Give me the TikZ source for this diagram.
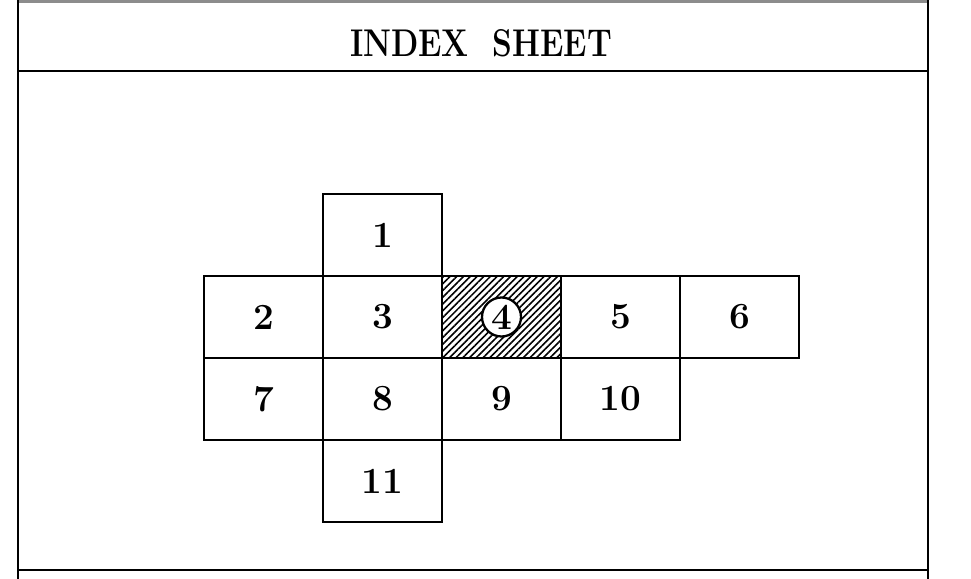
\documentclass[tikz,border=0pt]{standalone}
\usepackage{tikz}
\usepackage{graphicx}
\usetikzlibrary{patterns.meta}
\begin{document}
\begin{tikzpicture}[
  sq/.style={draw, line width=1.1pt, outer sep=0pt, inner sep=0pt,
             minimum width=2.38cm, minimum height=1.64cm,
             font=\fontsize{21}{24}\selectfont\bfseries},
  rim/.style={line width=1.6pt},
  hatch/.style={pattern={Lines[angle=45, distance=2.7pt, line width=0.9pt]}}
]
  \useasboundingbox (0,0) rectangle (19.42,-11.58);

  %% ── sheet frame ──
  \draw[rim, black!45] (0.36,-0.03) -- (18.56,-0.03);
  \draw[rim] (0.36,0) -- (0.36,-11.58);
  \draw[rim] (18.56,0) -- (18.56,-11.58);
  \draw[rim] (0.36,-1.42) -- (18.56,-1.42);
  \draw[rim] (0.36,-11.40) -- (18.56,-11.40);

  %% ── title ──
  \node (T) at (9.62,-0.86)
    {\scalebox{0.82}[1]{\fontsize{22}{25}\selectfont\bfseries INDEX\ \ SHEET}};

  %% ── sheets (grid) ──
  \node[sq] (S1)  at (7.65,-4.70)  {1};
  \node[sq] (S2)  at (5.27,-6.34)  {2};
  \node[sq] (S3)  at (7.65,-6.34)  {3};
  \node[sq, hatch, line width=1.7pt] (S4) at (10.03,-6.34) {};
  \node[sq] (S5)  at (12.41,-6.34) {5};
  \node[sq] (S6)  at (14.79,-6.34) {6};
  \node[sq] (S7)  at (5.27,-7.98)  {7};
  \node[sq] (S8)  at (7.65,-7.98)  {8};
  \node[sq] (S9)  at (10.03,-7.98) {9};
  \node[sq] (S10) at (12.41,-7.98) {10};
  \node[sq] (S11) at (7.65,-9.62)  {11};

  %% ── current sheet marker ──
  \node[circle, draw, fill=white, line width=1.3pt, minimum size=0.78cm,
        inner sep=0pt, font=\fontsize{21}{24}\selectfont\bfseries]
    (K4) at (S4.center) {4};
\end{tikzpicture}
\end{document}
